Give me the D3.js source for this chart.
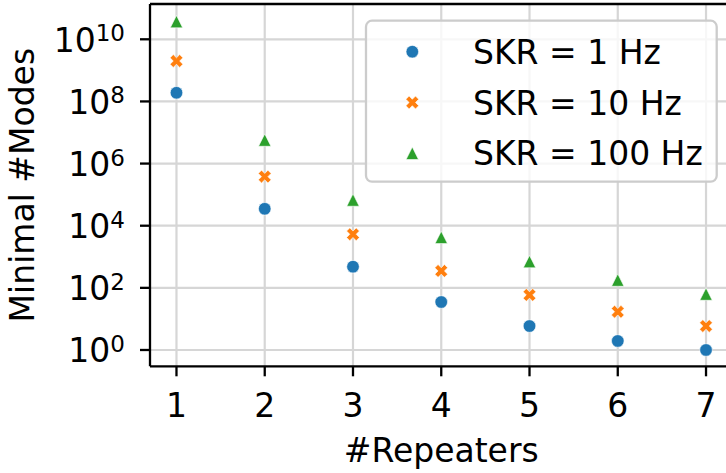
<!DOCTYPE html>
<html><head><meta charset="utf-8">
<script src="https://cdn.jsdelivr.net/npm/d3@7"></script>
<style>
html,body{margin:0;padding:0;background:#fff;}
svg{display:block;font-family:"DejaVu Sans",sans-serif;}
</style></head>
<body><svg id="c" width="726" height="473"></svg>
<script>
const repeaters = [1, 2, 3, 4, 5, 6, 7];
const skr1   = [1.9e8, 3.5e4, 480, 35, 5.9, 1.95, 1.0];
const skr10  = [2.0e9, 3.8e5, 5.3e3, 350, 59, 17, 5.9];
const skr100 = [3.7e10, 5.7e6, 6.7e4, 4.2e3, 700, 178, 63];
const seriesNames = ["SKR = 1 Hz", "SKR = 10 Hz", "SKR = 100 Hz"];
const seriesColors = ["#1f77b4", "#ff7f0e", "#2ca02c"];
const seriesShapes = ["circle", "x", "triangle"];
const yTickExps = [0, 2, 4, 6, 8, 10];
const xLabel = "#Repeaters";
const yLabel = "Minimal #Modes";

const svg = d3.select("#c");
const L = 150, R = 732.5, T = 4, B = 366.3;
const x = d3.scaleLinear().domain([0.7, 7.3]).range([L, R]);
const y = d3.scaleLog().domain([Math.pow(10, -0.525), Math.pow(10, 11.136)]).range([B, T]);
const FS = 33;

// grid
const g = svg.append("g");
g.selectAll("line.gx").data(repeaters).enter().append("line")
  .attr("x1", d => x(d)).attr("x2", d => x(d)).attr("y1", T).attr("y2", B)
  .attr("stroke", "#d6d6d6").attr("stroke-width", 2.2);
g.selectAll("line.gy").data(yTickExps).enter().append("line")
  .attr("x1", L).attr("x2", R).attr("y1", d => y(Math.pow(10, d))).attr("y2", d => y(Math.pow(10, d)))
  .attr("stroke", "#d6d6d6").attr("stroke-width", 2.2);

function markerPath(shape, s) {
  if (shape === "circle") {
    return d3.symbol().type(d3.symbolCircle).size(Math.PI * s * s)();
  }
  if (shape === "triangle") {
    return `M0,${-s}L${s},${s}L${-s},${s}Z`;
  }
  // filled X: plus rotated 45deg
  const Lh = s * 1.06, w = Lh / 3;
  const pts = [[-w,-Lh],[w,-Lh],[w,-w],[Lh,-w],[Lh,w],[w,w],[w,Lh],[-w,Lh],[-w,w],[-Lh,w],[-Lh,-w],[-w,-w]];
  const c = Math.SQRT1_2;
  return "M" + pts.map(([a,b]) => [(a - b) * c, (a + b) * c].map(v => v.toFixed(2)).join(",")).join("L") + "Z";
}
const sizes = {circle: 6.3, x: 6.4, triangle: 6.2};

const allSeries = [skr1, skr10, skr100];
allSeries.forEach((vals, i) => {
  svg.append("g").selectAll("path").data(vals).enter().append("path")
    .attr("transform", (d, j) => `translate(${x(repeaters[j])},${y(d)})`)
    .attr("d", markerPath(seriesShapes[i], sizes[seriesShapes[i]]))
    .attr("fill", seriesColors[i]).attr("stroke", "#fff").attr("stroke-width", 0.6);
});

// axes spines
svg.append("line").attr("x1", L).attr("x2", L).attr("y1", T).attr("y2", B).attr("stroke", "#000").attr("stroke-width", 2.3);
svg.append("line").attr("x1", L).attr("x2", R).attr("y1", B).attr("y2", B).attr("stroke", "#000").attr("stroke-width", 2.3);
svg.append("line").attr("x1", L).attr("x2", R).attr("y1", T).attr("y2", T).attr("stroke", "#000").attr("stroke-width", 2.3);

// x ticks
const xt = svg.append("g");
xt.selectAll("line").data(repeaters).enter().append("line")
  .attr("x1", d => x(d)).attr("x2", d => x(d)).attr("y1", B).attr("y2", B + 10)
  .attr("stroke", "#000").attr("stroke-width", 2.3);
xt.selectAll("text").data(repeaters).enter().append("text")
  .attr("x", d => x(d)).attr("y", 417).attr("text-anchor", "middle")
  .attr("font-size", FS).attr("fill", "#000").text(d => d);

// y ticks
const yt = svg.append("g");
yt.selectAll("line").data(yTickExps).enter().append("line")
  .attr("x1", L - 10).attr("x2", L).attr("y1", d => y(Math.pow(10, d))).attr("y2", d => y(Math.pow(10, d)))
  .attr("stroke", "#000").attr("stroke-width", 2.3);
yt.selectAll("text").data(yTickExps).enter().append("text")
  .attr("x", 125).attr("y", d => y(Math.pow(10, d)) + 12.5).attr("text-anchor", "end")
  .attr("font-size", FS).attr("fill", "#000")
  .each(function(d) {
    const t = d3.select(this);
    t.append("tspan").text("10");
    t.append("tspan").attr("font-size", 23).attr("dy", -10.5).text(d);
  });

// axis labels
svg.append("text").attr("x", (L + R) / 2).attr("y", 462).attr("text-anchor", "middle")
  .attr("font-size", FS).attr("fill", "#000").text(xLabel);
svg.append("text").attr("transform", `translate(34,${(T + B) / 2}) rotate(-90)`).attr("text-anchor", "middle")
  .attr("font-size", FS).attr("fill", "#000").text(yLabel);

// legend
const lg = svg.append("g");
lg.append("rect").attr("x", 366).attr("y", 20.7).attr("width", 350.7).attr("height", 161)
  .attr("rx", 6).attr("fill", "#fff").attr("fill-opacity", 0.8)
  .attr("stroke", "#cccccc").attr("stroke-width", 2.3);
seriesNames.forEach((name, i) => {
  const cy = 51.7 + i * 50.8;
  lg.append("path").attr("transform", `translate(412.3,${cy})`)
    .attr("d", markerPath(seriesShapes[i], sizes[seriesShapes[i]]))
    .attr("fill", seriesColors[i]).attr("stroke", "#fff").attr("stroke-width", 0.6);
  lg.append("text").attr("x", 473).attr("y", cy + 12).attr("font-size", FS).attr("fill", "#000").text(name);
});
</script></body></html>
